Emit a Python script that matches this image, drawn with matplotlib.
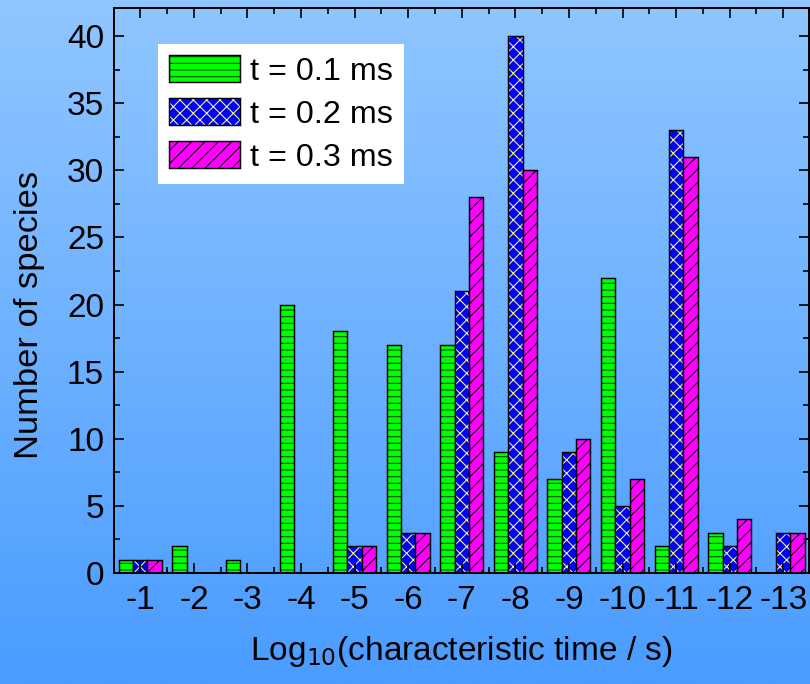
import matplotlib
matplotlib.use('Agg')
import matplotlib.pyplot as plt
import numpy as np
from matplotlib.colors import LinearSegmentedColormap
from matplotlib.legend_handler import HandlerTuple
from matplotlib.patches import Patch
from matplotlib.ticker import MultipleLocator, FixedLocator

plt.rcParams['font.family'] = ['Liberation Sans', 'DejaVu Sans']
plt.rcParams['hatch.linewidth'] = 1.0

# data
categories = ['-1', '-2', '-3', '-4', '-5', '-6', '-7', '-8', '-9', '-10', '-11', '-12', '-13']
t01 = [1, 2, 1, 20, 18, 17, 17, 9, 7, 22, 2, 3, 0]
t02 = [1, 0, 0, 0, 2, 3, 21, 40, 9, 5, 33, 2, 3]
t03 = [1, 0, 0, 0, 2, 3, 28, 30, 10, 7, 31, 4, 3]
series_labels = ['t = 0.1 ms', 't = 0.2 ms', 't = 0.3 ms']

faces = ['#00FF00', '#0000FF', '#FF00FF']
hatches = ['--', 'xx', '//']
hatch_cols = ['#005000', '#F0F080', '#000000']

W, H = 810, 684
fig = plt.figure(figsize=(W / 80, H / 80), dpi=80)

# gradient background
bg = fig.add_axes([0, 0, 1, 1], zorder=-10)
grad = np.linspace(0, 1, 256).reshape(-1, 1)
cmap = LinearSegmentedColormap.from_list('bg', ['#90C6FF', '#4A9CFF'])
bg.imshow(grad, aspect='auto', cmap=cmap, extent=[0, 1, 0, 1])
bg.axis('off')

ax = fig.add_axes([114 / W, 1 - 573 / H, (809 - 114) / W, (573 - 8) / H])
ax.set_facecolor('none')

x = np.arange(len(categories))
w = 0.267
handles = []
for i, vals in enumerate([t01, t02, t03]):
    pos = x + (i - 1) * w
    ax.bar(pos, vals, w, color=faces[i], hatch=hatches[i], edgecolor=hatch_cols[i], linewidth=0)
    ax.bar(pos, vals, w, fill=False, edgecolor='black', linewidth=1.3)
    handles.append((Patch(facecolor=faces[i], hatch=hatches[i], edgecolor=hatch_cols[i], linewidth=0),
                    Patch(fill=False, edgecolor='black', linewidth=1.3)))

ax.set_xlim(-0.49, 12.48)
ax.set_ylim(0, 42.1)
ax.set_xticks(x)
ax.set_xticklabels(categories)
ax.xaxis.set_minor_locator(FixedLocator(np.arange(-0.5, 13, 1)))
ax.yaxis.set_major_locator(MultipleLocator(5))
ax.yaxis.set_minor_locator(MultipleLocator(2.5))
ax.tick_params(which='both', direction='in', top=True, right=True, width=1.5, labelsize=30)
ax.tick_params(which='major', length=9)
ax.tick_params(which='minor', length=5)
ax.tick_params(axis='x', pad=11)
ax.tick_params(axis='y', pad=9)
for s in ax.spines.values():
    s.set_linewidth(1.8)

ax.set_ylabel('Number of species', fontsize=31)
ax.yaxis.set_label_coords(-0.1, 0.457)
ax.set_xlabel('Log$_{10}$(characteristic time / s)', fontsize=30, labelpad=16)

leg = ax.legend(handles, series_labels, handler_map={tuple: HandlerTuple(ndivide=1, pad=0)},
                loc='upper left', bbox_to_anchor=(158 / W, 1 - 44 / H), bbox_transform=fig.transFigure,
                borderaxespad=0, fancybox=False, framealpha=1, facecolor='white', edgecolor='none',
                fontsize=29, handlelength=2.2, handleheight=0.92, handletextpad=0.3,
                labelspacing=0.35, borderpad=0.35)

fig.savefig('out.png', dpi=80)
